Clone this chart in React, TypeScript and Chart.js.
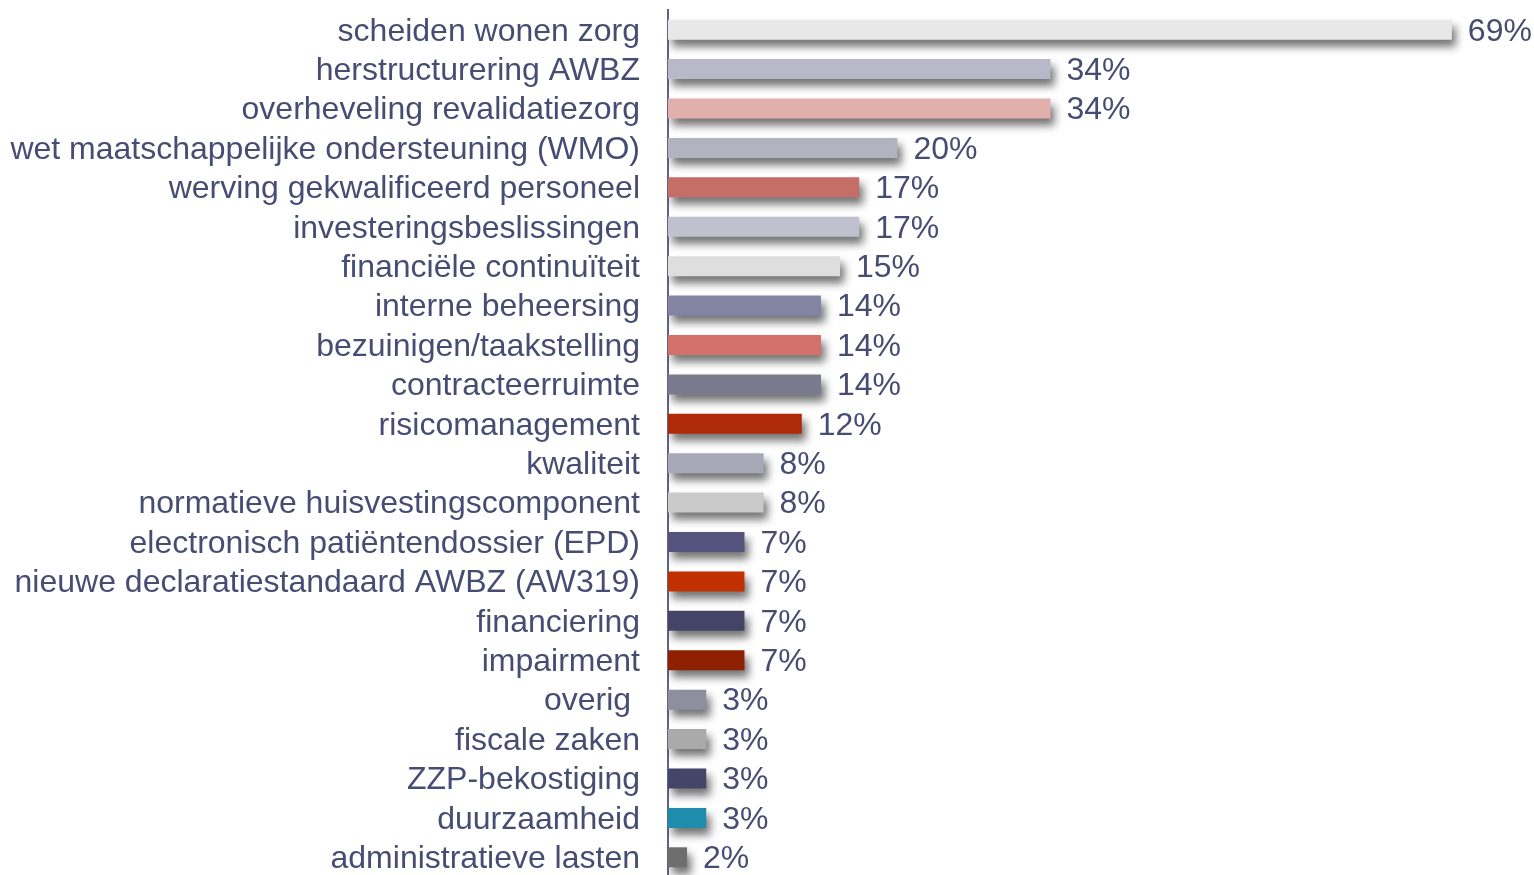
import React, { useEffect, useRef } from "react";
import { Chart, registerables } from "chart.js";

Chart.register(...registerables);

const categories = [
  "scheiden wonen zorg",
  "herstructurering AWBZ",
  "overheveling revalidatiezorg",
  "wet maatschappelijke ondersteuning (WMO)",
  "werving gekwalificeerd personeel",
  "investeringsbeslissingen",
  "financiële continuïteit",
  "interne beheersing",
  "bezuinigen/taakstelling",
  "contracteerruimte",
  "risicomanagement",
  "kwaliteit",
  "normatieve huisvestingscomponent",
  "electronisch patiëntendossier (EPD)",
  "nieuwe declaratiestandaard AWBZ (AW319)",
  "financiering",
  "impairment",
  "overig ",
  "fiscale zaken",
  "ZZP-bekostiging",
  "duurzaamheid",
  "administratieve lasten",
];

const values = [
  69.49, 33.9, 33.9, 20.34, 16.95, 16.95, 15.25, 13.56, 13.56, 13.56, 11.86,
  8.47, 8.47, 6.78, 6.78, 6.78, 6.78, 3.39, 3.39, 3.39, 3.39, 1.69,
];

const barColors = [
  "#e8e8e8",
  "#b8b8c8",
  "#e2b0ac",
  "#b3b3c0",
  "#c56e68",
  "#c0c0cf",
  "#dedede",
  "#8383a3",
  "#d4706a",
  "#7a7a8f",
  "#ae2a08",
  "#a8a8b8",
  "#cacaca",
  "#54547f",
  "#c03000",
  "#434466",
  "#8e2000",
  "#8e8e9e",
  "#aaaaaa",
  "#444569",
  "#1e8dab",
  "#6e6e6e",
];

const TEXT_COLOR = "#474d72";
const FONT_FAMILY = "'Liberation Sans', Arial, sans-serif";

const shadowPlugin = {
  id: "barShadow",
  beforeDatasetDraw(chart: any) {
    const ctx = chart.ctx;
    ctx.save();
    ctx.shadowColor = "rgba(0,0,0,0.55)";
    ctx.shadowOffsetX = 4;
    ctx.shadowOffsetY = 7;
    ctx.shadowBlur = 8;
  },
  afterDatasetDraw(chart: any) {
    chart.ctx.restore();
  },
};

const valueLabelPlugin = {
  id: "valueLabels",
  afterDatasetsDraw(chart: any) {
    const ctx = chart.ctx;
    const meta = chart.getDatasetMeta(0);
    ctx.save();
    ctx.font = `32px ${FONT_FAMILY}`;
    ctx.fillStyle = TEXT_COLOR;
    ctx.textAlign = "left";
    ctx.textBaseline = "middle";
    meta.data.forEach((bar: any, i: number) => {
      const v = values[i];
      ctx.fillText(`${Math.round(v)}%`, bar.x + 16, bar.y + 2);
    });
    ctx.restore();
  },
};

export default function App() {
  const canvasRef = useRef<HTMLCanvasElement | null>(null);

  useEffect(() => {
    document.body.style.margin = "0";
    const canvas = canvasRef.current;
    if (!canvas) return;
    const chart = new Chart(canvas, {
      type: "bar",
      data: {
        labels: categories,
        datasets: [
          {
            data: values,
            backgroundColor: barColors,
            borderWidth: 0,
            barPercentage: 0.508,
            categoryPercentage: 1,
          },
        ],
      },
      options: {
        indexAxis: "y",
        responsive: false,
        maintainAspectRatio: false,
        animation: false,
        layout: { padding: { top: 10, bottom: 13, left: 0, right: 20 } },
        plugins: {
          legend: { display: false },
          tooltip: { enabled: false },
        },
        scales: {
          x: {
            display: false,
            min: 0,
            max: 75,
          },
          y: {
            afterFit(scale: any) {
              scale.width = 668;
              scale.paddingTop = 0;
              scale.paddingBottom = 0;
            },
            grid: { display: false, drawTicks: false },
            border: { display: true, color: "#5f6388", width: 2 },
            ticks: {
              padding: 28,
              labelOffset: 2,
              color: TEXT_COLOR,
              font: { size: 32, family: FONT_FAMILY },
              autoSkip: false,
            },
          },
        },
      },
      plugins: [shadowPlugin, valueLabelPlugin],
    });
    return () => chart.destroy();
  }, []);

  return (
    <div
      style={{
        position: "absolute",
        left: 0,
        top: 0,
        width: 1534,
        height: 875,
        overflow: "hidden",
        background: "#ffffff",
      }}
    >
      <canvas ref={canvasRef} width={1534} height={890} style={{ display: "block" }} />
    </div>
  );
}
